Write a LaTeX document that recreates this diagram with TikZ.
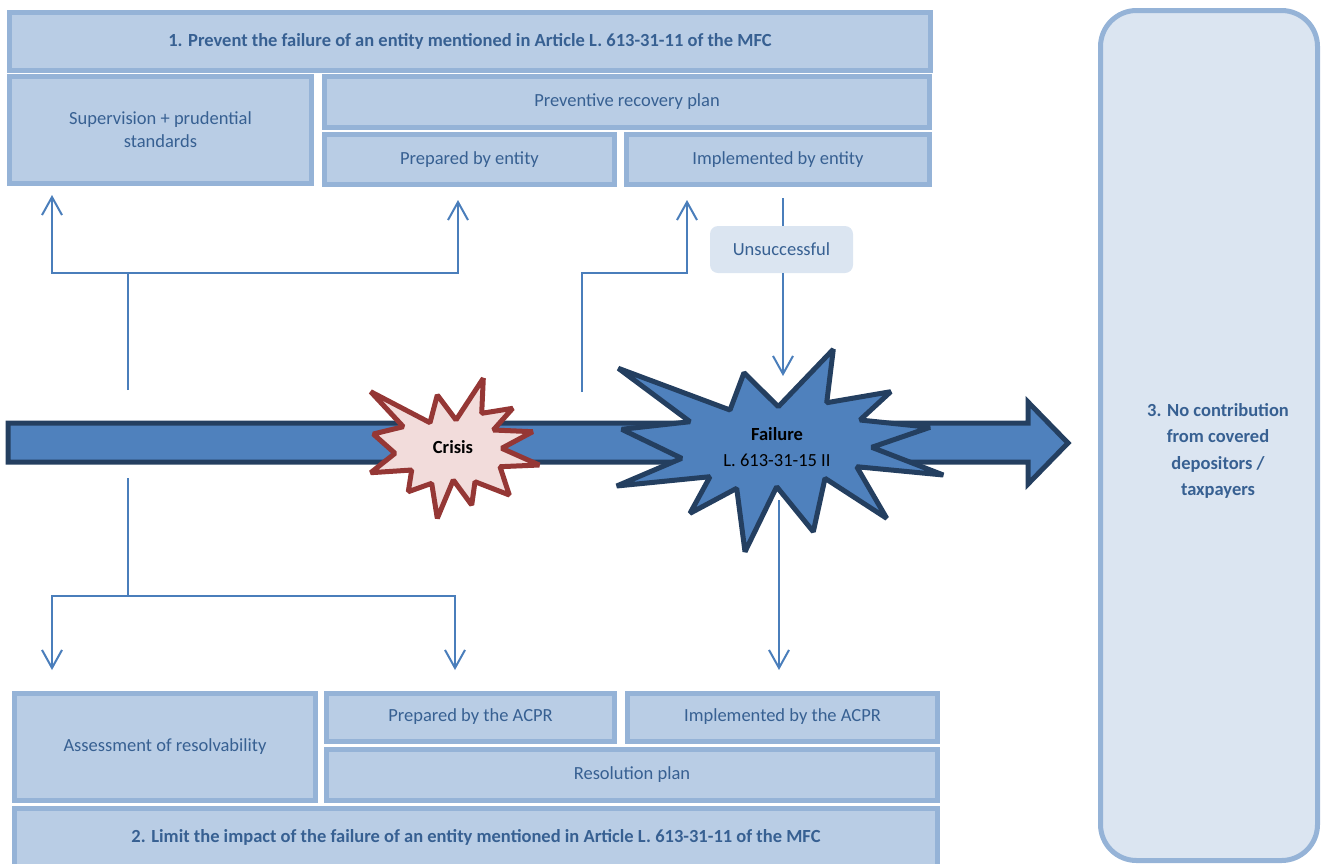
\documentclass[tikz,border=0pt]{standalone}
\usepackage{fontspec}
\setmainfont{Carlito}
\usepackage{xcolor}
\usepackage{tikz}
\usetikzlibrary{arrows.meta, positioning, calc}
\definecolor{boxfill}{HTML}{B9CDE5}
\definecolor{boxline}{HTML}{95B3D7}
\definecolor{palefill}{HTML}{DBE5F1}
\definecolor{textblue}{HTML}{376092}
\definecolor{linkblue}{HTML}{4A7EBB}
\definecolor{timefill}{HTML}{4F81BD}
\definecolor{timeline}{HTML}{243F60}
\definecolor{crisisfill}{HTML}{F2DCDB}
\definecolor{crisisline}{HTML}{953735}

\begin{document}
\begin{tikzpicture}[
    x=1pt, y=-1pt,
    box/.style={draw=boxline, fill=boxfill, line width=5pt, inner sep=0pt, align=center, text=textblue, font=\fontsize{18.5}{23}\selectfont},
    titlebox/.style={box, font=\fontsize{18.5}{23}\selectfont\bfseries},
    link/.style={draw=linkblue, line width=2pt},
    arrow/.style={link, -{Straight Barb[length=18pt,width=20pt]}},
    star/.style={line width=5pt, line join=bevel}
]
    \useasboundingbox (0,0) rectangle (1322,863);
    \clip (0,0) rectangle (1322,863);

    % Prevention side
    \node[titlebox, minimum width=921pt, minimum height=58pt] (prevent) at (470,41) {1. Prevent the failure of an entity mentioned in Article L. 613-31-11 of the MFC};
    \node[box, minimum width=302pt, minimum height=107pt] (superv) at (160.5,130) {Supervision + prudential\\standards};
    \node[box, minimum width=605pt, minimum height=51pt] (recovery) at (627,101.5) {Preventive recovery plan};
    \node[box, minimum width=290pt, minimum height=50pt] (prepEntity) at (469.5,159.5) {Prepared by entity};
    \node[box, minimum width=303pt, minimum height=50pt] (implEntity) at (778,159.5) {Implemented by entity};

    % Resolution side
    \node[box, minimum width=301pt, minimum height=107pt] (assess) at (165,747) {Assessment of resolvability};
    \node[box, minimum width=288pt, minimum height=48pt] (prepACPR) at (470.5,717) {Prepared by the ACPR};
    \node[box, minimum width=310pt, minimum height=48pt] (implACPR) at (782.5,717) {Implemented by the ACPR};
    \node[box, minimum width=611pt, minimum height=51pt] (resolution) at (632,775) {Resolution plan};
    \node[titlebox, minimum width=923pt, minimum height=58pt] (limit) at (476,837) {2. Limit the impact of the failure of an entity mentioned in Article L. 613-31-11 of the MFC};

    % Third objective
    \node[draw=boxline, fill=palefill, line width=5pt, rounded corners=36pt, minimum width=217pt, minimum height=850pt] (side) at (1209,435.5) {};
    \node[align=center, text=textblue, font=\fontsize{18.5}{26.3}\selectfont\bfseries] (nocontrib) at (1218,451) {3. No contribution\\from covered\\depositors /\\taxpayers};

    % Time line
    \draw[fill=timefill, draw=timeline, line width=5pt, line join=miter]
        (8,423) -- (1028,423) -- (1028,402) -- (1068,443) -- (1028,484) -- (1028,462) -- (8,462) -- cycle;

    % Crisis
    \draw[star, fill=crisisfill, draw=crisisline]
        (370.7,391.7) -- (430,422.7) -- (437.3,395) -- (456,420) -- (483.3,378.3) -- (481.7,413.3)
        -- (512.7,408.3) -- (493.3,430) -- (532.7,431.7) -- (501.7,448.3) -- (539.3,465) -- (500,466.7)
        -- (509.3,495) -- (475,481.7) -- (471.7,505) -- (453.3,480) -- (437.3,518.3) -- (431.7,483.3)
        -- (408.3,491.7) -- (411.7,470) -- (370.7,472.7) -- (395,453.3) -- (373.3,434) -- (403.3,426.7) -- cycle;
    \node[font=\fontsize{18.5}{23}\selectfont\bfseries] (crisis) at (453,447) {Crisis};

    % Failure
    \draw[star, fill=timefill, draw=timeline]
        (618.3,368.3) -- (730,410) -- (744,372.7) -- (778.3,406.7) -- (833.3,349.3) -- (826.7,402.7)
        -- (890.7,391.7) -- (860,420) -- (930,427.3) -- (871.7,447.3) -- (943.3,475) -- (856.7,466.7)
        -- (886.7,518.3) -- (825,478.3) -- (813.3,531.7) -- (776.7,486.7) -- (745,551.7) -- (736.7,488.3)
        -- (690,513.3) -- (710,476.7) -- (616.7,486) -- (681.7,458.3) -- (621.7,429.3) -- (690,421.7) -- cycle;
    \node[align=center, font=\fontsize{18.5}{26}\selectfont] (failure) at (777,447) {\textbf{Failure}\\L. 613-31-15 II};

    % Unsuccessful recovery
    \node[fill=palefill, rounded corners=8pt, minimum width=143pt, minimum height=47pt, text=textblue, font=\fontsize{18.5}{23}\selectfont] (unsucc) at (781.5,249.5) {Unsuccessful};

    % Connectors upwards
    \coordinate (stemUp) at (128,390);
    \coordinate (forkUp) at (128,273);
    \coordinate (tipSuperv) at (52,195);
    \coordinate (tipPrep) at (458,200);
    \coordinate (stemMid) at (582,392);
    \coordinate (tipImpl) at (687,200);
    \draw[link] (stemUp) -- (forkUp);
    \draw[arrow] (forkUp) -| (tipSuperv);
    \draw[arrow] (forkUp) -| (tipPrep);
    \draw[arrow] (stemMid) -- (stemMid |- forkUp) -| (tipImpl);

    % Unsuccessful path
    \coordinate (implOut) at (783,198);
    \coordinate (tipFail) at (783,376);
    \draw[link] (implOut) -- (implOut |- unsucc.north);
    \draw[arrow] (unsucc.south -| implOut) -- (tipFail);

    % Connectors downwards
    \coordinate (stemDown) at (128,478);
    \coordinate (forkDown) at (128,596);
    \coordinate (tipAssess) at (52,670);
    \coordinate (tipPrepACPR) at (455,670);
    \coordinate (failOut) at (779,500);
    \coordinate (tipImplACPR) at (779,670);
    \draw[link] (stemDown) -- (forkDown);
    \draw[arrow] (forkDown) -| (tipAssess);
    \draw[arrow] (forkDown) -| (tipPrepACPR);
    \draw[arrow] (failOut) -- (tipImplACPR);
\end{tikzpicture}
\end{document}
